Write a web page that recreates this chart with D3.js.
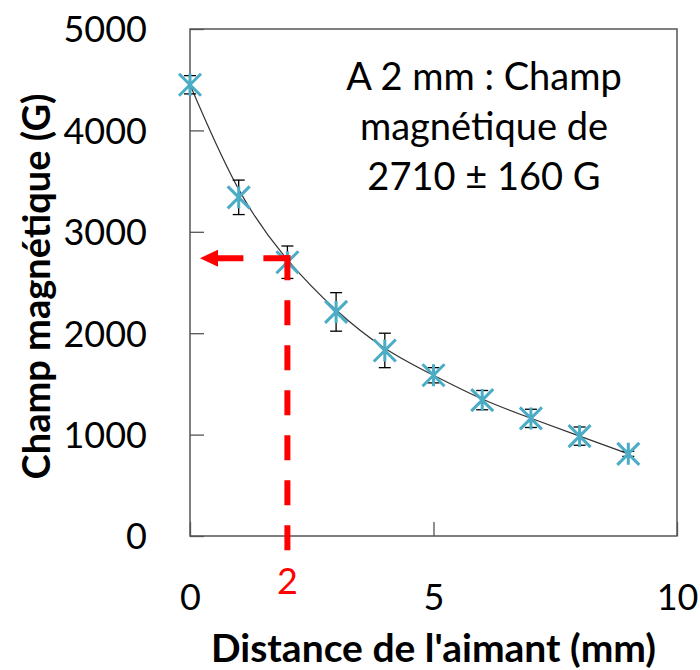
<!DOCTYPE html>
<html>
<head>
<meta charset="utf-8">
<script src="https://cdn.jsdelivr.net/npm/d3@7"></script>
<style>
  body { margin: 0; background: #fff; }
  svg { display: block; }
  text { font-family: Lato, "Open Sans", sans-serif; }
</style>
</head>
<body>
<script>
// distances (mm), field (G) and error bars
var distances = [0, 1, 2, 3, 4, 5, 6, 7, 8, 9];
var champ     = [4450, 3340, 2700, 2210, 1830, 1585, 1340, 1160, 985, 810];
var erreurs   = [90, 170, 160, 190, 170, 75, 95, 90, 90, 25];
var yTicks = [0, 1000, 2000, 3000, 4000, 5000];
var xTicks = [0, 5, 10];
var lecture = {x: 2, y: 2740};   // red dashed read-out
var annotation = ["A 2 mm : Champ", "magnétique de", "2710 ± 160 G"];

var margin = {top: 29, right: 23, bottom: 134, left: 190},
    width = 700 - margin.left - margin.right,
    height = 670 - margin.top - margin.bottom;

var x = d3.scaleLinear().domain([0, 10]).range([0, width]);
var y = d3.scaleLinear().domain([0, 5000]).range([height, 0]);

var svg = d3.select("body").append("svg")
    .attr("width", 700)
    .attr("height", 670)
  .append("g")
    .attr("transform", "translate(" + margin.left + "," + margin.top + ")");

var points = distances.map(function(d, i) { return {x: d, y: champ[i], e: erreurs[i]}; });

// axes, inner ticks
var yAxis = svg.append("g")
    .call(d3.axisLeft(y).tickValues(yTicks).tickSize(-14).tickPadding(43).tickFormat(d3.format("d")));
var xAxis = svg.append("g")
    .attr("transform", "translate(0," + height + ")")
    .call(d3.axisBottom(x).tickValues(xTicks).tickSize(-14).tickPadding(48).tickFormat(d3.format("d")));

[yAxis, xAxis].forEach(function(a) {
  a.select(".domain").remove();
  a.selectAll(".tick line").attr("stroke", "#555").attr("stroke-width", 1.3);
  a.selectAll("text").attr("fill", "#000").style("font-size", "36px").style("font-family", "Lato");
});
yAxis.selectAll("text").attr("dy", "0.36em");

// frame
svg.append("rect")
    .attr("width", width)
    .attr("height", height)
    .attr("fill", "none")
    .attr("stroke", "#555")
    .attr("stroke-width", 1.5);

// fitted curve
svg.append("path")
    .datum(points)
    .attr("fill", "none")
    .attr("stroke", "#333")
    .attr("stroke-width", 1.2)
    .attr("d", d3.line().curve(d3.curveBasis)
        .x(function(d) { return x(d.x); })
        .y(function(d) { return y(d.y); }));

// error bars
var eb = svg.append("g").attr("stroke", "#000").attr("stroke-width", 1.3);
points.forEach(function(d) {
  eb.append("line").attr("x1", x(d.x)).attr("x2", x(d.x)).attr("y1", y(d.y - d.e)).attr("y2", y(d.y + d.e));
  eb.append("line").attr("x1", x(d.x) - 6).attr("x2", x(d.x) + 6).attr("y1", y(d.y - d.e)).attr("y2", y(d.y - d.e));
  eb.append("line").attr("x1", x(d.x) - 6).attr("x2", x(d.x) + 6).attr("y1", y(d.y + d.e)).attr("y2", y(d.y + d.e));
});

// star markers
var s = 11;
svg.append("g").selectAll("path")
    .data(points)
    .enter().append("path")
    .attr("transform", function(d) { return "translate(" + x(d.x) + "," + y(d.y) + ")"; })
    .attr("d", "M" + (-s) + "," + (-s) + "L" + s + "," + s + "M" + (-s) + "," + s + "L" + s + "," + (-s) + "M0," + (-s) + "V" + s)
    .attr("fill", "none")
    .attr("stroke", "#4bacc6")
    .attr("stroke-width", 3);

// red read-out
var red = svg.append("g").attr("stroke", "#ff0000").attr("stroke-width", 6).attr("fill", "none");
var lx = x(lecture.x), ly = y(lecture.y);
red.append("path")
    .attr("d", "M" + (lx + 3) + "," + ly + "H" + 28)
    .attr("stroke-dasharray", "27,20");
red.append("path")
    .attr("d", "M" + lx + "," + (ly - 3) + "V" + (height + 17))
    .attr("stroke-dasharray", "25,20");
svg.append("path")
    .attr("d", "M10," + ly + "L28," + (ly - 8.5) + "L28," + (ly + 8.5) + "Z")
    .attr("fill", "#ff0000");
svg.append("text")
    .attr("x", lx)
    .attr("y", 594 - margin.top)
    .attr("text-anchor", "middle")
    .attr("fill", "#ff0000")
    .style("font-size", "36px")
    .text(lecture.x);

// annotation
svg.append("g").selectAll("text")
    .data(annotation)
    .enter().append("text")
    .attr("x", 484 - margin.left)
    .attr("y", function(d, i) { return 90 - margin.top + i * 50; })
    .attr("text-anchor", "middle")
    .style("font-size", "38px")
    .text(function(d) { return d; });

// axis titles
svg.append("text")
    .attr("x", width / 2)
    .attr("y", 662 - margin.top)
    .attr("text-anchor", "middle")
    .style("font-size", "39px")
    .style("font-weight", "bold")
    .text("Distance de l'aimant (mm)");

svg.append("text")
    .attr("transform", "translate(" + (50 - margin.left) + "," + (height / 2 + 4) + ") rotate(-90)")
    .attr("text-anchor", "middle")
    .style("font-size", "38px")
    .style("font-weight", "bold")
    .text("Champ magnétique (G)");
</script>
</body>
</html>
